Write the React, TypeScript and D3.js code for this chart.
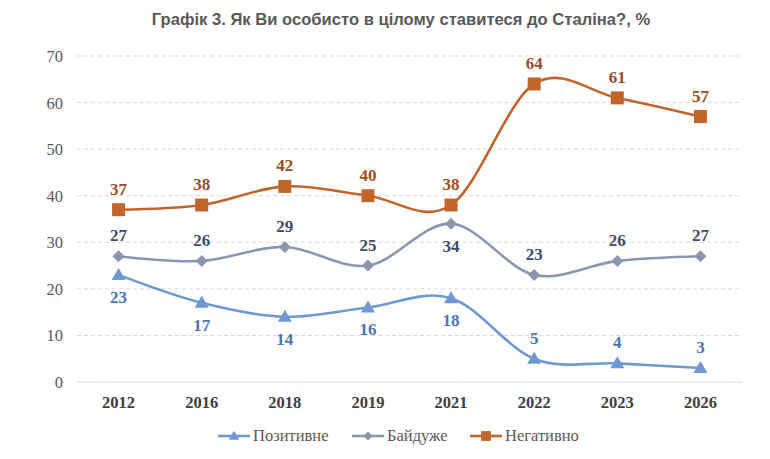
import * as d3 from 'd3'

const YEARS = ['2012', '2016', '2018', '2019', '2021', '2022', '2023', '2026']
const POSITIVE = [23, 17, 14, 16, 18, 5, 4, 3]
const INDIFFERENT = [27, 26, 29, 25, 34, 23, 26, 27]
const NEGATIVE = [37, 38, 42, 40, 38, 64, 61, 57]
const Y_TICKS = [0, 10, 20, 30, 40, 50, 60, 70]

// label placement per point: 1 = above, -1 = below
const POSITIVE_POS = [-1, -1, -1, -1, -1, 1, 1, 1]
const INDIFFERENT_POS = [1, 1, 1, 1, -1, 1, 1, 1]
const NEGATIVE_POS = [1, 1, 1, 1, 1, 1, 1, 1]

const W = 770
const H = 459
const PLOT = { left: 77, right: 742, top: 56, bottom: 382 }

const SERIES = [
  { name: 'Позитивне', values: POSITIVE, pos: POSITIVE_POS, line: '#6E98D2', label: '#4A74B4', marker: 'triangle' },
  { name: 'Байдуже', values: INDIFFERENT, pos: INDIFFERENT_POS, line: '#8C95AE', label: '#3F4A64', marker: 'diamond' },
  { name: 'Негативно', values: NEGATIVE, pos: NEGATIVE_POS, line: '#C2652C', label: '#9A4E1F', marker: 'square' },
]

const markerPath = (kind: string) => {
  if (kind === 'triangle') return 'M0,-7L7,5L-7,5Z'
  if (kind === 'diamond') return 'M0,-6L6,0L0,6L-6,0Z'
  return 'M-6.5,-6.5L6.5,-6.5L6.5,6.5L-6.5,6.5Z'
}

export default function App() {
  const x = d3.scalePoint<string>().domain(YEARS).range([PLOT.left, PLOT.right]).padding(0.5)
  const y = d3.scaleLinear().domain([0, 70]).range([PLOT.bottom, PLOT.top])
  const line = d3
    .line<number>()
    .x((_, i) => x(YEARS[i]) ?? 0)
    .y((d) => y(d))
    .curve(d3.curveCardinal.tension(0))

  const serif = '"Liberation Serif", "Times New Roman", serif'
  const legendX = [218, 352, 470]

  return (
    <svg width={W} height={H} style={{ position: 'absolute', left: 0, top: 0, background: '#fff' }}>
      <text
        x={401}
        y={25}
        textAnchor="middle"
        fontFamily='"Liberation Sans", Arial, sans-serif'
        fontWeight="bold"
        fontSize={16.6}
        fill="#595959"
      >
        Графік 3. Як Ви особисто в цілому ставитеся до Сталіна?, %
      </text>

      {Y_TICKS.map((t) => (
        <g key={t}>
          <line
            x1={PLOT.left}
            x2={PLOT.right}
            y1={y(t)}
            y2={y(t)}
            stroke="#d9d9d9"
            strokeWidth={1}
            strokeDasharray={t === 0 ? undefined : '4,3'}
          />
          <text x={63} y={y(t) + 6} textAnchor="end" fontFamily={serif} fontSize={16.5} fill="#595959">
            {t}
          </text>
        </g>
      ))}

      {YEARS.map((yr) => (
        <text
          key={yr}
          x={x(yr)}
          y={408}
          textAnchor="middle"
          fontFamily={serif}
          fontWeight="bold"
          fontSize={16.5}
          fill="#404040"
        >
          {yr}
        </text>
      ))}

      {SERIES.map((s) => (
        <g key={s.name}>
          <path d={line(s.values) ?? ''} fill="none" stroke={s.line} strokeWidth={2.6} />
          {s.values.map((v, i) => (
            <path
              key={i}
              d={markerPath(s.marker)}
              transform={`translate(${x(YEARS[i])},${y(v)})`}
              fill={s.line}
            />
          ))}
          {s.values.map((v, i) => (
            <text
              key={'l' + i}
              x={x(YEARS[i])}
              y={y(v) + (s.pos[i] > 0 ? -15 : 28)}
              textAnchor="middle"
              fontFamily={serif}
              fontWeight="bold"
              fontSize={17}
              fill={s.label}
            >
              {v}
            </text>
          ))}
        </g>
      ))}

      {SERIES.map((s, i) => (
        <g key={'lg' + s.name} transform={`translate(${legendX[i]},436)`}>
          <line x1={0} x2={32} y1={0} y2={0} stroke={s.line} strokeWidth={2.6} />
          <path d={markerPath(s.marker)} transform="translate(16,0) scale(0.75)" fill={s.line} />
          <text x={35} y={5} fontFamily={serif} fontSize={16.5} fill="#595959">
            {s.name}
          </text>
        </g>
      ))}
    </svg>
  )
}
